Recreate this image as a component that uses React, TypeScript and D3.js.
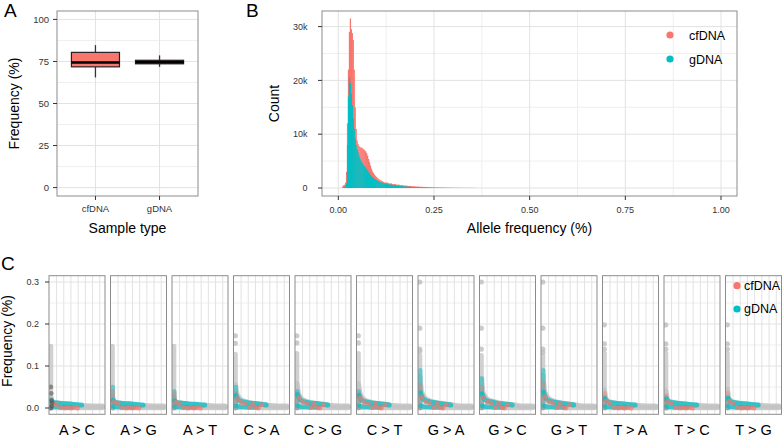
import React from "react";
import * as d3 from "d3";

const RED = "#F8766D";
const TEAL = "#00BFC4";
const FONT = "'Liberation Sans', Arial, Helvetica, sans-serif";

// ---------- Panel A data ----------
const sampleTypes = ["cfDNA", "gDNA"];
const boxMin = [65.5, 71.8];
const boxQ1 = [71.8, 73.6];
const boxMedian = [74.4, 74.6];
const boxQ3 = [80.4, 75.7];
const boxMax = [84.7, 78.6];
const boxFill = [RED, RED];
const freqTicks = [0, 25, 50, 75, 100];

// ---------- Panel B data ----------
const binEdges = [
  0.01, 0.0125, 0.015, 0.0175, 0.02, 0.0225, 0.025, 0.0275, 0.03, 0.0325, 0.035, 0.0375, 0.04, 0.0425, 0.045,
  0.0475, 0.05, 0.0525, 0.055, 0.0575, 0.06, 0.0625, 0.065, 0.0675, 0.07, 0.0725, 0.075, 0.0775, 0.08, 0.0825,
  0.085, 0.0875, 0.09, 0.0925, 0.095, 0.0975, 0.1, 0.1025, 0.105, 0.1075, 0.11, 0.1125, 0.115, 0.1175, 0.12,
  0.13, 0.14, 0.15, 0.16, 0.17, 0.18, 0.19, 0.2, 0.21, 0.22, 0.23, 0.24, 0.25, 0.26, 0.27, 0.28, 0.29, 0.3,
  0.31, 0.32, 0.33, 0.34, 0.35, 0.36,
];
const cfCountsK = [
  0.3, 0.5, 0.6, 1.0, 3.0, 12, 22, 29, 31.5, 29.5, 28.8, 27.5, 22, 15, 11, 8.8, 8.2, 7.8, 7.6, 7.5, 7.5, 7.3,
  7.2, 7.0, 6.8, 6.5, 6.0, 5.4, 4.8, 4.2, 3.6, 3.1, 2.8, 2.5, 2.3, 2.1, 1.9, 1.75, 1.6, 1.5, 1.4, 1.3, 1.2, 1.1,
  1.0, 0.85, 0.72, 0.62, 0.53, 0.45, 0.38, 0.32, 0.27, 0.23, 0.19, 0.16, 0.13, 0.11, 0.09, 0.08, 0.07, 0.06,
  0.05, 0.045, 0.04, 0.035, 0.03, 0.025,
];
const gCountsK = [
  0, 0.1, 0.2, 0.3, 0.8, 8, 17, 20.6, 19.5, 17.5, 15.4, 13, 11, 9.2, 8.0, 7.2, 6.6, 6.0, 5.5, 5.1, 4.8, 4.5,
  4.2, 4.0, 3.8, 3.5, 3.2, 2.9, 2.7, 2.4, 2.2, 2.0, 1.85, 1.7, 1.6, 1.5, 1.4, 1.3, 1.2, 1.12, 1.05, 1.0, 0.95,
  0.9, 0.8, 0.65, 0.52, 0.42, 0.34, 0.27, 0.21, 0.17, 0.13, 0.1, 0.08, 0.06, 0.04, 0.03, 0.02, 0.015, 0.01,
  0, 0, 0, 0, 0, 0, 0,
];
const afTicks = [0, 0.25, 0.5, 0.75, 1];
const afTickLabels = ["0.00", "0.25", "0.50", "0.75", "1.00"];
const afMinor = [0.125, 0.375, 0.625, 0.875];
const countTicksK = [0, 10, 20, 30];
const countTickLabels = ["0", "10k", "20k", "30k"];
const countMinorK = [5, 15, 25];
const seriesNames = ["cfDNA", "gDNA"];
const seriesColors = [RED, TEAL];

// ---------- Panel C data ----------
const mutations = ["A > C", "A > G", "A > T", "C > A", "C > G", "C > T", "G > A", "G > C", "G > T", "T > A", "T > C", "T > G"];
const cTicks = [0, 0.1, 0.2, 0.3];
const cTickLabels = ["0.0", "0.1", "0.2", "0.3"];
const cMinor = [0.05, 0.15, 0.25];
const rankGrid = [1, 2, 3, 4, 5, 6, 7];
const columnX = 0.2;
const colTop = [0.147, 0.147, 0.147, 0.128, 0.13, 0.13, 0.125, 0.125, 0.125, 0.13, 0.13, 0.13];
const outliers = [
  [], [], [],
  [0.172, 0.154], [0.172, 0.155], [0.172, 0.155],
  [0.3, 0.19, 0.14, 0.135], [0.3, 0.19, 0.14], [0.3, 0.19, 0.14, 0.133],
  [0.198, 0.153, 0.14], [0.198, 0.153, 0.14], [0.198, 0.153, 0.14],
];
const tealColTop = [0.02, 0.05, 0.04, 0.05, 0.04, 0.04, 0.09, 0.07, 0.09, 0.025, 0.025, 0.025];
const redColTop = [0.015, 0.04, 0.035, 0.035, 0.035, 0.035, 0.055, 0.05, 0.06, 0.035, 0.03, 0.035];
const curveX = [0.2, 0.4, 0.7, 1.0, 1.4, 1.8, 2.3, 2.8, 3.4, 4.0, 4.7, 5.4, 6.2, 7.35];
const grayCurve = [
  [0.025, 0.015, 0.013, 0.012, 0.011, 0.01, 0.009, 0.008, 0.007, 0.006, 0.005, 0.005, 0.004, 0.004],
  [0.028, 0.016, 0.013, 0.012, 0.011, 0.01, 0.009, 0.008, 0.007, 0.006, 0.005, 0.005, 0.004, 0.004],
  [0.026, 0.015, 0.013, 0.012, 0.011, 0.01, 0.009, 0.008, 0.007, 0.006, 0.006, 0.005, 0.004, 0.004],
  [0.055, 0.034, 0.024, 0.019, 0.016, 0.014, 0.012, 0.01, 0.009, 0.008, 0.006, 0.005, 0.004, 0.004],
  [0.058, 0.035, 0.025, 0.02, 0.016, 0.014, 0.012, 0.011, 0.009, 0.008, 0.006, 0.005, 0.004, 0.004],
  [0.057, 0.035, 0.025, 0.02, 0.016, 0.014, 0.012, 0.01, 0.009, 0.008, 0.006, 0.005, 0.004, 0.004],
  [0.075, 0.04, 0.028, 0.022, 0.018, 0.015, 0.013, 0.011, 0.01, 0.008, 0.007, 0.005, 0.004, 0.004],
  [0.07, 0.038, 0.027, 0.021, 0.017, 0.015, 0.013, 0.011, 0.009, 0.008, 0.007, 0.005, 0.004, 0.004],
  [0.078, 0.042, 0.029, 0.023, 0.018, 0.015, 0.013, 0.011, 0.01, 0.008, 0.007, 0.005, 0.004, 0.004],
  [0.042, 0.022, 0.016, 0.014, 0.012, 0.011, 0.01, 0.009, 0.008, 0.007, 0.006, 0.005, 0.004, 0.004],
  [0.04, 0.021, 0.016, 0.014, 0.012, 0.011, 0.01, 0.009, 0.008, 0.007, 0.006, 0.005, 0.004, 0.004],
  [0.044, 0.022, 0.017, 0.014, 0.012, 0.011, 0.01, 0.009, 0.008, 0.007, 0.006, 0.005, 0.004, 0.004],
];
const grayBase = [
  [0.002, 0.001, 0.001, 0.001, 0.001, 0.001, 0.001, 0.001, 0.001, 0.001, 0.001, 0.001, 0.001, 0.001],
  [0.002, 0.001, 0.001, 0.001, 0.001, 0.001, 0.001, 0.001, 0.001, 0.001, 0.001, 0.001, 0.001, 0.001],
  [0.002, 0.001, 0.001, 0.001, 0.001, 0.001, 0.001, 0.001, 0.001, 0.001, 0.001, 0.001, 0.001, 0.001],
  [0.003, 0.002, 0.002, 0.002, 0.002, 0.002, 0.002, 0.002, 0.001, 0.001, 0.001, 0.001, 0.001, 0.001],
  [0.003, 0.002, 0.002, 0.002, 0.002, 0.002, 0.002, 0.002, 0.001, 0.001, 0.001, 0.001, 0.001, 0.001],
  [0.003, 0.002, 0.002, 0.002, 0.002, 0.002, 0.002, 0.002, 0.001, 0.001, 0.001, 0.001, 0.001, 0.001],
  [0.003, 0.002, 0.002, 0.002, 0.002, 0.002, 0.002, 0.002, 0.001, 0.001, 0.001, 0.001, 0.001, 0.001],
  [0.003, 0.002, 0.002, 0.002, 0.002, 0.002, 0.002, 0.002, 0.001, 0.001, 0.001, 0.001, 0.001, 0.001],
  [0.003, 0.002, 0.002, 0.002, 0.002, 0.002, 0.002, 0.002, 0.001, 0.001, 0.001, 0.001, 0.001, 0.001],
  [0.002, 0.001, 0.001, 0.001, 0.001, 0.001, 0.001, 0.001, 0.001, 0.001, 0.001, 0.001, 0.001, 0.001],
  [0.002, 0.001, 0.001, 0.001, 0.001, 0.001, 0.001, 0.001, 0.001, 0.001, 0.001, 0.001, 0.001, 0.001],
  [0.002, 0.001, 0.001, 0.001, 0.001, 0.001, 0.001, 0.001, 0.001, 0.001, 0.001, 0.001, 0.001, 0.001],
];
const tealX = [0.3, 0.6, 1.0, 1.5, 2.0, 2.6, 3.2, 3.8, 4.5];
const tealUpper = [
  [0.016, 0.013, 0.012, 0.011, 0.01, 0.01, 0.009, 0.008, 0.007],
  [0.018, 0.014, 0.012, 0.011, 0.01, 0.01, 0.009, 0.008, 0.007],
  [0.017, 0.013, 0.012, 0.011, 0.01, 0.009, 0.009, 0.008, 0.007],
  [0.03, 0.02, 0.016, 0.014, 0.012, 0.011, 0.01, 0.009, 0.007],
  [0.032, 0.021, 0.016, 0.014, 0.012, 0.011, 0.01, 0.009, 0.007],
  [0.031, 0.02, 0.016, 0.014, 0.012, 0.011, 0.01, 0.009, 0.007],
  [0.036, 0.023, 0.018, 0.015, 0.013, 0.012, 0.01, 0.009, 0.007],
  [0.034, 0.022, 0.017, 0.015, 0.013, 0.011, 0.01, 0.009, 0.007],
  [0.038, 0.024, 0.018, 0.015, 0.013, 0.012, 0.01, 0.009, 0.007],
  [0.022, 0.016, 0.013, 0.012, 0.011, 0.01, 0.009, 0.008, 0.007],
  [0.021, 0.015, 0.013, 0.012, 0.011, 0.01, 0.009, 0.008, 0.007],
  [0.023, 0.016, 0.013, 0.012, 0.011, 0.01, 0.009, 0.008, 0.007],
];
const tealLowX = [0.3, 0.6, 1.0, 1.5, 2.0, 2.6, 3.2];
const tealLower = [
  [0.004, 0.003, 0.003, 0.002, 0.002, 0.002, 0.002],
  [0.004, 0.003, 0.003, 0.002, 0.002, 0.002, 0.002],
  [0.004, 0.003, 0.003, 0.002, 0.002, 0.002, 0.002],
  [0.005, 0.004, 0.003, 0.003, 0.002, 0.002, 0.002],
  [0.005, 0.004, 0.003, 0.003, 0.002, 0.002, 0.002],
  [0.005, 0.004, 0.003, 0.003, 0.002, 0.002, 0.002],
  [0.005, 0.004, 0.003, 0.003, 0.002, 0.002, 0.002],
  [0.005, 0.004, 0.003, 0.003, 0.002, 0.002, 0.002],
  [0.005, 0.004, 0.003, 0.003, 0.002, 0.002, 0.002],
  [0.004, 0.003, 0.003, 0.002, 0.002, 0.002, 0.002],
  [0.004, 0.003, 0.003, 0.002, 0.002, 0.002, 0.002],
  [0.004, 0.003, 0.003, 0.002, 0.002, 0.002, 0.002],
];
const redX = [0.5, 1.0, 1.6, 2.2, 2.6, 3.0, 3.4, 3.9];
const redY = [
  [0.01, 0.008, 0.001, 0.0, 0.001, 0.0, 0.001, 0.0],
  [0.014, 0.01, 0.001, 0.0, 0.001, 0.0, 0.001, 0.0],
  [0.013, 0.009, 0.001, 0.0, 0.001, 0.0, 0.001, 0.0],
  [0.022, 0.013, 0.011, 0.001, 0.009, 0.001, 0.0, 0.008],
  [0.024, 0.014, 0.011, 0.001, 0.009, 0.001, 0.0, 0.008],
  [0.023, 0.013, 0.011, 0.001, 0.009, 0.001, 0.0, 0.008],
  [0.026, 0.015, 0.012, 0.001, 0.01, 0.001, 0.0, 0.008],
  [0.025, 0.014, 0.012, 0.001, 0.01, 0.001, 0.0, 0.008],
  [0.027, 0.015, 0.012, 0.001, 0.01, 0.001, 0.0, 0.008],
  [0.016, 0.011, 0.001, 0.0, 0.001, 0.0, 0.001, 0.0],
  [0.015, 0.011, 0.001, 0.0, 0.001, 0.0, 0.001, 0.0],
  [0.016, 0.011, 0.001, 0.0, 0.001, 0.0, 0.001, 0.0],
];
const darkACx = [0.2, 0.3, 0.4, 0.3, 0.2, 0.25];
const darkACy = [0.0, 0.004, 0.012, 0.018, 0.05, 0.035];

const MAJOR = "#e2e2e2";
const MINOR = "#efefef";
const BORDER = "#8c8c8c";
const TICKC = "#333";

export default function App() {
  // ---- Panel A ----
  const aL = 57, aR = 198, aT = 11, aB = 196;
  const yA = d3.scaleLinear().domain([-5, 105]).range([aB, aT]);
  const xA = d3.scalePoint().domain(sampleTypes).range([aL, aR]).padding(0.6);
  const boxW = xA.step() * 0.75;
  const aMinor = freqTicks.slice(0, -1).map((t, i) => (t + freqTicks[i + 1]) / 2);

  // ---- Panel B ----
  const bL = 322, bR = 737, bT = 11, bB = 196;
  const xB = d3.scaleLinear().domain([-0.0426, 1.0418]).range([bL, bR]);
  const yB = d3.scaleLinear().domain([-1.49, 32.9]).range([bB, bT]);

  // ---- Panel C ----
  const cT = 275.7, cB = 414.3, fW = 56, fPitch = 61.5, fX0 = 49;
  const yC = d3.scaleLinear().domain([-0.015, 0.315]).range([cB, cT]);

  return (
    <svg width={784} height={438} style={{ position: "absolute", left: 0, top: 0, background: "#fff" }} fontFamily={FONT}>
      <rect x={0} y={0} width={784} height={438} fill="#fff" />
      {/* Panel labels */}
      <text x={4} y={17} fontSize={19}>A</text>
      <text x={246} y={17} fontSize={19}>B</text>
      <text x={1} y={270} fontSize={19}>C</text>

      {/* ===== Panel A ===== */}
      <g>
        {aMinor.map((t) => (
          <line key={"am" + t} x1={aL} x2={aR} y1={yA(t)} y2={yA(t)} stroke={MINOR} strokeWidth={1} />
        ))}
        {freqTicks.map((t) => (
          <line key={"aM" + t} x1={aL} x2={aR} y1={yA(t)} y2={yA(t)} stroke={MAJOR} strokeWidth={1} />
        ))}
        {sampleTypes.map((s) => (
          <line key={"av" + s} x1={xA(s)} x2={xA(s)} y1={aT} y2={aB} stroke={MAJOR} strokeWidth={1} />
        ))}
        {sampleTypes.map((s, i) => {
          const cx = xA(s)!;
          return (
            <g key={"box" + s}>
              <line x1={cx} x2={cx} y1={yA(boxMax[i])} y2={yA(boxQ3[i])} stroke="#333" strokeWidth={1.3} />
              <line x1={cx} x2={cx} y1={yA(boxQ1[i])} y2={yA(boxMin[i])} stroke="#333" strokeWidth={1.3} />
              <rect x={cx - boxW / 2} y={yA(boxQ3[i])} width={boxW} height={yA(boxQ1[i]) - yA(boxQ3[i])} fill={boxFill[i]} stroke="#222" strokeWidth={1.2} />
              <line x1={cx - boxW / 2} x2={cx + boxW / 2} y1={yA(boxMedian[i])} y2={yA(boxMedian[i])} stroke="#000" strokeWidth={2.6} />
            </g>
          );
        })}
        <rect x={aL} y={aT} width={aR - aL} height={aB - aT} fill="none" stroke={BORDER} strokeWidth={1} />
        {freqTicks.map((t) => (
          <g key={"at" + t}>
            <line x1={aL - 4} x2={aL} y1={yA(t)} y2={yA(t)} stroke={TICKC} strokeWidth={1} />
            <text x={aL - 8} y={yA(t) + 3.3} fontSize={9.5} textAnchor="end" fill={TICKC}>{t}</text>
          </g>
        ))}
        {sampleTypes.map((s) => (
          <g key={"axl" + s}>
            <line x1={xA(s)} x2={xA(s)} y1={aB} y2={aB + 4} stroke={TICKC} strokeWidth={1} />
            <text x={xA(s)} y={211.5} fontSize={9.5} textAnchor="middle" fill={TICKC}>{s}</text>
          </g>
        ))}
        <text x={(aL + aR) / 2} y={233} fontSize={14} textAnchor="middle">Sample type</text>
        <text transform={`translate(19,${(aT + aB) / 2}) rotate(-90)`} fontSize={14} textAnchor="middle">Frequency (%)</text>
      </g>

      {/* ===== Panel B ===== */}
      <g>
        {countMinorK.map((t) => (
          <line key={"bm" + t} x1={bL} x2={bR} y1={yB(t)} y2={yB(t)} stroke={MINOR} strokeWidth={1} />
        ))}
        {afMinor.map((t) => (
          <line key={"bvm" + t} x1={xB(t)} x2={xB(t)} y1={bT} y2={bB} stroke={MINOR} strokeWidth={1} />
        ))}
        {countTicksK.map((t) => (
          <line key={"bM" + t} x1={bL} x2={bR} y1={yB(t)} y2={yB(t)} stroke={MAJOR} strokeWidth={1} />
        ))}
        {afTicks.map((t) => (
          <line key={"bvM" + t} x1={xB(t)} x2={xB(t)} y1={bT} y2={bB} stroke={MAJOR} strokeWidth={1} />
        ))}
        {[cfCountsK, gCountsK].map((counts, si) => (
          <g key={"hist" + si}>
            {counts.map((c, i) =>
              c > 0 ? (
                <rect
                  key={i}
                  x={xB(binEdges[i])}
                  width={xB(binEdges[i + 1]) - xB(binEdges[i]) + 0.3}
                  y={yB(c)}
                  height={yB(0) - yB(c)}
                  fill={seriesColors[si]}
                />
              ) : null
            )}
          </g>
        ))}
        <rect x={bL} y={bT} width={bR - bL} height={bB - bT} fill="none" stroke={BORDER} strokeWidth={1} />
        {countTicksK.map((t, i) => (
          <g key={"bt" + t}>
            <line x1={bL - 4} x2={bL} y1={yB(t)} y2={yB(t)} stroke={TICKC} strokeWidth={1} />
            <text x={307.5} y={yB(t) + 3.2} fontSize={9} textAnchor="end" fill={TICKC}>{countTickLabels[i]}</text>
          </g>
        ))}
        {afTicks.map((t, i) => (
          <g key={"bx" + t}>
            <line x1={xB(t)} x2={xB(t)} y1={bB} y2={bB + 4} stroke={TICKC} strokeWidth={1} />
            <text x={xB(t)} y={212.5} fontSize={9} textAnchor="middle" fill={TICKC}>{afTickLabels[i]}</text>
          </g>
        ))}
        <text x={(bL + bR) / 2} y={232.5} fontSize={14} textAnchor="middle">Allele frequency (%)</text>
        <text transform={`translate(279,${(bT + bB) / 2}) rotate(-90)`} fontSize={14} textAnchor="middle">Count</text>
        {seriesNames.map((n, i) => (
          <g key={"bl" + n}>
            <circle cx={670} cy={35 + i * 24} r={3.6} fill={seriesColors[i]} />
            <text x={689} y={39.5 + i * 24} fontSize={12.5}>{n}</text>
          </g>
        ))}
      </g>

      {/* ===== Panel C ===== */}
      <defs>
        {mutations.map((m, fi) => (
          <clipPath key={"cp" + fi} id={"fclip" + fi}>
            <rect x={fX0 + fi * fPitch} y={cT} width={fW} height={cB - cT} />
          </clipPath>
        ))}
      </defs>
      {mutations.map((m, fi) => {
        const fx = fX0 + fi * fPitch;
        const xC = d3.scaleLinear().domain([-0.05, 7.73]).range([fx, fx + fW]);
        const line = (xs: number[]) =>
          d3
            .line<number>()
            .x((_, i) => xC(xs[i]))
            .y((d) => yC(d))
            .curve(d3.curveMonotoneX);
        return (
          <g key={"f" + fi}>
            {cMinor.map((t) => (
              <line key={"cm" + t} x1={fx} x2={fx + fW} y1={yC(t)} y2={yC(t)} stroke={MINOR} strokeWidth={1} />
            ))}
            {cTicks.map((t) => (
              <line key={"cM" + t} x1={fx} x2={fx + fW} y1={yC(t)} y2={yC(t)} stroke={MAJOR} strokeWidth={1} />
            ))}
            {rankGrid.map((t) => (
              <line key={"cv" + t} x1={xC(t)} x2={xC(t)} y1={cT} y2={cB} stroke={MAJOR} strokeWidth={1} />
            ))}
            <g clipPath={`url(#fclip${fi})`}>
              {/* gray points */}
              <line x1={xC(columnX)} x2={xC(columnX)} y1={yC(0)} y2={yC(colTop[fi])} stroke="#c2c2c2" strokeWidth={5} strokeLinecap="round" opacity={0.75} />
              {outliers[fi].map((v, k) => (
                <circle key={"o" + k} cx={xC(columnX)} cy={yC(v)} r={2.6} fill="#c2c2c2" opacity={0.85} />
              ))}
              <path d={line(curveX)(grayBase[fi]) || ""} fill="none" stroke="#c6c6c6" strokeWidth={5.5} strokeLinecap="round" strokeLinejoin="round" opacity={0.9} />
              <path d={line(curveX)(grayCurve[fi]) || ""} fill="none" stroke="#c2c2c2" strokeWidth={5.5} strokeLinecap="round" strokeLinejoin="round" opacity={0.85} />
              {/* colored columns */}
              <line x1={xC(columnX) + 0.5} x2={xC(columnX) + 0.5} y1={yC(0)} y2={yC(tealColTop[fi])} stroke={TEAL} strokeWidth={4.5} strokeLinecap="round" opacity={0.5} />
              <line x1={xC(columnX) + 0.5} x2={xC(columnX) + 0.5} y1={yC(0)} y2={yC(redColTop[fi])} stroke={RED} strokeWidth={4.5} strokeLinecap="round" opacity={0.4} />
              {/* teal bands */}
              <path d={line(tealX)(tealUpper[fi]) || ""} fill="none" stroke={TEAL} strokeWidth={5} strokeLinecap="round" strokeLinejoin="round" opacity={0.75} />
              <path d={line(tealLowX)(tealLower[fi]) || ""} fill="none" stroke={TEAL} strokeWidth={4.5} strokeLinecap="round" strokeLinejoin="round" opacity={0.7} />
              {/* red points */}
              {redX.map((x, k) => (
                <circle key={"r" + k} cx={xC(x)} cy={yC(redY[fi][k])} r={2.5} fill={RED} opacity={0.68} />
              ))}
              {fi === 0 &&
                darkACx.map((x, k) => (
                  <circle key={"d" + k} cx={xC(x)} cy={yC(darkACy[k])} r={2.4} fill="#555" opacity={0.6} />
                ))}
            </g>
            <rect x={fx} y={cT} width={fW} height={cB - cT} fill="none" stroke={BORDER} strokeWidth={1} />
            <text x={fx + fW / 2} y={434.5} fontSize={14.5} textAnchor="middle">{m}</text>
          </g>
        );
      })}
      {cTicks.map((t, i) => (
        <g key={"ct" + t}>
          <line x1={fX0 - 4} x2={fX0} y1={yC(t)} y2={yC(t)} stroke={TICKC} strokeWidth={1} />
          <text x={39} y={yC(t) + 3.2} fontSize={9} textAnchor="end" fill={TICKC}>{cTickLabels[i]}</text>
        </g>
      ))}
      <text transform={`translate(12,341) rotate(-90)`} fontSize={14} textAnchor="middle">Frequency (%)</text>
      {seriesNames.map((n, i) => (
        <g key={"cl" + n}>
          <circle cx={737} cy={285.7 + i * 23.3} r={3.6} fill={seriesColors[i]} />
          <text x={744} y={290 + i * 23.3} fontSize={12.5}>{n}</text>
        </g>
      ))}
    </svg>
  );
}
